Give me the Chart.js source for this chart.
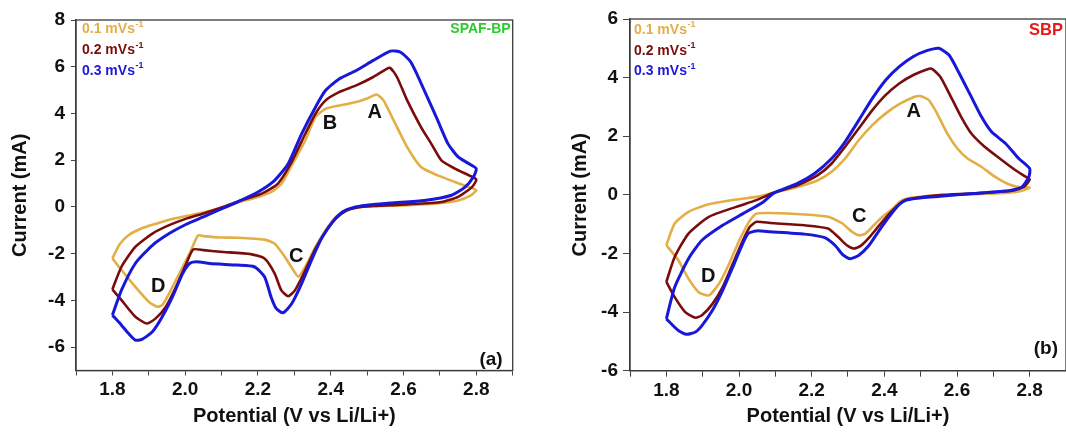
<!DOCTYPE html>
<html>
<head>
<meta charset="utf-8">
<title>CV curves</title>
<script src="https://cdn.jsdelivr.net/npm/chart.js@4.4.1/dist/chart.umd.min.js"></script>
<style>
  html, body { margin: 0; padding: 0; background: #fff; overflow: hidden; }
  .panel { position: absolute; top: 0; height: 432px; }
  #panelA { left: 0; width: 533px; }
  #panelB { left: 533px; width: 540px; }
</style>
</head>
<body>
<div class="panel" id="panelA"><canvas id="chartA" width="533" height="432"></canvas></div>
<div class="panel" id="panelB"><canvas id="chartB" width="540" height="432"></canvas></div>
<script>
/* CV plots: SPAF-BP (a) and SBP (b) */

const scanRates = ['0.1', '0.2', '0.3'];
const rateColors = ['#E3AE45', '#7A0C0C', '#1818DA'];

const xTickValues = [1.7, 1.8, 1.9, 2.0, 2.1, 2.2, 2.3, 2.4, 2.5, 2.6, 2.7, 2.8, 2.9];
const xLabelValues = [1.8, 2.0, 2.2, 2.4, 2.6, 2.8];
const yTicksA = [-6, -4, -2, 0, 2, 4, 6, 8];
const yTicksB = [-6, -4, -2, 0, 2, 4, 6];

// SPAF-BP, 0.1 mV/s (anodic sweep 1.8 -> 2.8, then cathodic back)
const potA1 = [1.800, 1.820, 1.845, 1.880, 1.920, 1.956, 2.000, 2.050, 2.096, 2.143, 2.200, 2.237, 2.265, 2.290, 2.330, 2.358, 2.386, 2.423, 2.470, 2.498, 2.526, 2.545, 2.573, 2.610, 2.648, 2.694, 2.741, 2.780, 2.800,
  2.780, 2.750, 2.704, 2.610, 2.517, 2.470, 2.442, 2.414, 2.386, 2.358, 2.330, 2.311, 2.297, 2.274, 2.246, 2.218, 2.143, 2.096, 2.050, 2.035, 2.012, 1.984, 1.956, 1.937, 1.923, 1.900, 1.863, 1.825, 1.800];
const curA1 = [-2.20, -1.60, -1.20, -0.92, -0.72, -0.55, -0.40, -0.24, -0.05, 0.18, 0.43, 0.64, 1.00, 1.70, 2.85, 3.85, 4.20, 4.34, 4.49, 4.63, 4.81, 4.56, 3.70, 2.56, 1.71, 1.35, 1.07, 0.85, 0.71,
  0.45, 0.28, 0.17, 0.07, 0.03, -0.03, -0.14, -0.43, -1.00, -1.71, -2.56, -2.99, -2.70, -2.14, -1.57, -1.40, -1.32, -1.31, -1.25, -1.22, -2.00, -2.85, -3.70, -4.20, -4.27, -4.06, -3.42, -2.70, -2.20];

// SPAF-BP, 0.2 mV/s
const potA2 = [1.800, 1.825, 1.863, 1.910, 1.956, 2.003, 2.050, 2.096, 2.143, 2.210, 2.255, 2.290, 2.330, 2.358, 2.386, 2.423, 2.470, 2.517, 2.554, 2.564, 2.582, 2.610, 2.648, 2.676, 2.704, 2.741, 2.780, 2.800,
  2.788, 2.750, 2.704, 2.610, 2.517, 2.470, 2.442, 2.414, 2.386, 2.358, 2.330, 2.302, 2.283, 2.264, 2.246, 2.218, 2.180, 2.096, 2.050, 2.022, 2.003, 1.975, 1.947, 1.919, 1.895, 1.863, 1.825, 1.800];
const curA2 = [-3.53, -2.56, -1.71, -1.14, -0.78, -0.50, -0.28, -0.05, 0.22, 0.57, 1.00, 1.85, 3.13, 3.99, 4.56, 4.91, 5.20, 5.56, 5.91, 5.94, 5.56, 4.56, 3.42, 2.71, 1.99, 1.64, 1.35, 1.17,
  0.85, 0.43, 0.21, 0.11, 0.04, -0.03, -0.17, -0.50, -1.07, -1.78, -2.71, -3.56, -3.82, -3.56, -2.85, -2.21, -2.02, -1.92, -1.85, -1.82, -2.42, -3.42, -4.27, -4.77, -4.99, -4.70, -3.99, -3.53];

// SPAF-BP, 0.3 mV/s
const potA3 = [1.800, 1.825, 1.863, 1.910, 1.956, 2.003, 2.050, 2.096, 2.143, 2.200, 2.246, 2.283, 2.320, 2.358, 2.386, 2.423, 2.470, 2.517, 2.564, 2.592, 2.620, 2.657, 2.694, 2.722, 2.750, 2.780, 2.800,
  2.792, 2.769, 2.732, 2.657, 2.564, 2.498, 2.461, 2.433, 2.405, 2.377, 2.349, 2.320, 2.293, 2.269, 2.250, 2.236, 2.218, 2.190, 2.143, 2.068, 2.031, 2.012, 1.993, 1.965, 1.937, 1.910, 1.881, 1.863, 1.844, 1.825, 1.800];
const curA3 = [-4.63, -3.56, -2.42, -1.64, -1.14, -0.74, -0.43, -0.11, 0.21, 0.64, 1.14, 1.85, 3.13, 4.27, 4.99, 5.48, 5.84, 6.27, 6.67, 6.62, 6.20, 4.99, 3.70, 2.71, 2.14, 1.85, 1.64,
  1.28, 0.85, 0.50, 0.28, 0.17, 0.07, -0.03, -0.21, -0.64, -1.28, -2.21, -3.28, -4.13, -4.53, -4.34, -3.85, -2.99, -2.56, -2.49, -2.42, -2.35, -2.42, -2.85, -3.85, -4.70, -5.34, -5.67, -5.70, -5.41, -5.06, -4.63];

// SBP, 0.1 mV/s
const potB1 = [1.800, 1.823, 1.861, 1.917, 1.992, 2.048, 2.095, 2.161, 2.217, 2.255, 2.292, 2.330, 2.367, 2.404, 2.442, 2.480, 2.498, 2.522, 2.545, 2.573, 2.601, 2.629, 2.667, 2.704, 2.742, 2.770, 2.800,
  2.779, 2.742, 2.648, 2.554, 2.508, 2.461, 2.442, 2.423, 2.395, 2.367, 2.348, 2.330, 2.311, 2.283, 2.245, 2.180, 2.086, 2.048, 2.030, 2.001, 1.973, 1.945, 1.917, 1.889, 1.861, 1.833, 1.800];
const curB1 = [-1.72, -0.98, -0.58, -0.32, -0.16, -0.07, 0.07, 0.27, 0.50, 0.79, 1.24, 1.87, 2.38, 2.78, 3.10, 3.33, 3.37, 3.24, 2.78, 2.10, 1.58, 1.24, 0.96, 0.62, 0.36, 0.27, 0.25,
  0.14, 0.07, 0.02, -0.01, -0.05, -0.13, -0.24, -0.47, -0.75, -1.09, -1.32, -1.38, -1.26, -0.96, -0.75, -0.67, -0.62, -0.64, -0.87, -1.55, -2.35, -3.03, -3.43, -3.32, -2.86, -2.23, -1.72];

// SBP, 0.2 mV/s
const potB2 = [1.800, 1.823, 1.861, 1.917, 1.992, 2.048, 2.095, 2.161, 2.217, 2.255, 2.292, 2.330, 2.367, 2.404, 2.442, 2.480, 2.517, 2.531, 2.554, 2.583, 2.611, 2.639, 2.676, 2.723, 2.761, 2.789, 2.800,
  2.784, 2.751, 2.648, 2.554, 2.508, 2.461, 2.442, 2.414, 2.386, 2.358, 2.334, 2.315, 2.297, 2.273, 2.245, 2.180, 2.086, 2.048, 2.030, 2.011, 1.983, 1.955, 1.927, 1.898, 1.880, 1.852, 1.823, 1.800];
const curB2 = [-2.97, -2.12, -1.32, -0.75, -0.41, -0.18, 0.07, 0.33, 0.67, 1.07, 1.64, 2.27, 2.89, 3.41, 3.81, 4.09, 4.28, 4.30, 4.03, 3.35, 2.67, 2.10, 1.64, 1.19, 0.84, 0.62, 0.52,
  0.27, 0.14, 0.05, -0.01, -0.07, -0.16, -0.30, -0.64, -1.04, -1.46, -1.75, -1.83, -1.72, -1.44, -1.15, -1.04, -0.96, -0.92, -1.09, -1.55, -2.35, -3.15, -3.72, -4.11, -4.19, -4.00, -3.49, -2.97];

// SBP, 0.3 mV/s
const potB3 = [1.800, 1.823, 1.861, 1.898, 1.955, 2.011, 2.067, 2.095, 2.161, 2.208, 2.255, 2.292, 2.330, 2.367, 2.404, 2.442, 2.480, 2.517, 2.550, 2.578, 2.606, 2.639, 2.667, 2.695, 2.733, 2.770, 2.800,
  2.798, 2.779, 2.742, 2.648, 2.554, 2.508, 2.461, 2.442, 2.414, 2.386, 2.358, 2.330, 2.306, 2.287, 2.264, 2.236, 2.180, 2.086, 2.048, 2.025, 2.006, 1.983, 1.955, 1.927, 1.898, 1.880, 1.856, 1.833, 1.800];
const curB3 = [-4.23, -3.15, -2.18, -1.55, -1.04, -0.64, -0.24, 0.05, 0.39, 0.73, 1.24, 1.81, 2.55, 3.29, 3.92, 4.38, 4.72, 4.92, 5.00, 4.77, 4.15, 3.35, 2.67, 2.15, 1.76, 1.24, 0.90,
  0.62, 0.27, 0.14, 0.05, -0.05, -0.09, -0.18, -0.32, -0.73, -1.21, -1.72, -2.06, -2.18, -2.06, -1.72, -1.46, -1.34, -1.26, -1.23, -1.32, -1.78, -2.46, -3.26, -3.94, -4.46, -4.68, -4.76, -4.63, -4.23];

// peak labels [name, potential, current]
const peaksA = [['A', 2.521, 4.06], ['B', 2.398, 3.56], ['C', 2.305, -2.14], ['D', 1.926, -3.39]];
const peaksB = [['A', 2.481, 2.86], ['C', 2.331, -0.75], ['D', 1.915, -2.80]];

const FONT = '"Liberation Sans", Arial, Helvetica, sans-serif';
Chart.defaults.font.family = FONT;
Chart.defaults.color = '#111';

function pts(xs, ys) {
    return xs.map((x, i) => ({ x: x, y: ys[i] }));
}

function makeSets(curves) {
    return curves.map((c, i) => ({
        label: scanRates[i] + ' mVs-1',
        data: pts(c[0], c[1]),
        borderColor: rateColors[i],
        borderWidth: i === 2 ? 3 : 2.6,
        pointRadius: 0,
        showLine: true,
        tension: 0.2,
        fill: false,
        order: 3 - i // blue on top
    }));
}

// frame, in-plot legend, panel name, (a)/(b) tag and peak letters
const notesPlugin = {
    id: 'cvNotes',
    afterDatasetsDraw(chart, args, opts) {
        const { ctx, chartArea: a } = chart;
        const xs = chart.scales.x, ys = chart.scales.y;
        ctx.save();

        ctx.strokeStyle = '#3a3a3a';
        ctx.lineWidth = 1.3;
        ctx.strokeRect(a.left, a.top, a.right - a.left, a.bottom - a.top);

        ctx.textBaseline = 'middle';
        ctx.textAlign = 'left';
        scanRates.forEach((rate, i) => {
            const ty = a.top + opts.legendTop + i * 20.7;
            const tx = a.left + opts.legendLeft;
            const main = rate + ' mVs';
            ctx.fillStyle = rateColors[i];
            ctx.font = 'bold 14px ' + FONT;
            ctx.fillText(main, tx, ty);
            const w = ctx.measureText(main).width;
            ctx.font = 'bold 9px ' + FONT;
            ctx.fillText('-1', tx + w + 0.5, ty - 5);
        });

        ctx.textAlign = 'right';
        ctx.fillStyle = opts.nameColor;
        ctx.font = 'bold ' + opts.nameSize + 'px ' + FONT;
        ctx.fillText(opts.name, a.right - opts.nameRight, a.top + opts.nameTop);

        ctx.fillStyle = '#111';
        ctx.font = 'bold 19px ' + FONT;
        ctx.fillText(opts.tag, a.right - opts.tagRight, a.bottom - opts.tagBottom);

        ctx.textAlign = 'center';
        ctx.font = 'bold 20px ' + FONT;
        opts.peaks.forEach(p => {
            ctx.fillText(p[0], xs.getPixelForValue(p[1]), ys.getPixelForValue(p[2]));
        });
        ctx.restore();
    }
};

function makeChart(id, curves, yTicks, yMin, yMax, box, notes) {
    const el = document.getElementById(id);
    if (!el) return;

    new Chart(el, {
        type: 'scatter',
        data: { datasets: makeSets(curves) },
        options: {
            responsive: false,
            animation: false,
            devicePixelRatio: 1,
            layout: { padding: { top: box.top, right: box.right, left: 0, bottom: 0 } },
            plugins: {
                legend: { display: false },
                tooltip: { enabled: false },
                cvNotes: notes
            },
            scales: {
                x: {
                    type: 'linear',
                    min: 1.7,
                    max: 2.9,
                    afterBuildTicks: s => { s.ticks = xTickValues.map(v => ({ value: v })); },
                    afterFit: s => { s.height = box.xHeight; },
                    ticks: {
                        autoSkip: false,
                        maxRotation: 0,
                        padding: box.xPad,
                        color: '#111',
                        font: { size: box.tickSize, weight: 'bold' },
                        callback: v => xLabelValues.some(l => Math.abs(l - v) < 1e-6) ? v.toFixed(1) : ''
                    },
                    grid: { drawOnChartArea: false, drawTicks: true, tickLength: box.xTick, tickColor: '#444' },
                    border: { display: true, color: '#3a3a3a', width: 1.3 },
                    title: {
                        display: true,
                        text: 'Potential (V vs Li/Li+)',
                        color: '#111',
                        font: { size: 20, weight: 'bold' },
                        padding: { top: 0, bottom: 4 }
                    }
                },
                y: {
                    min: yMin,
                    max: yMax,
                    afterBuildTicks: s => { s.ticks = yTicks.map(v => ({ value: v })); },
                    afterFit: s => { s.width = box.yWidth; },
                    ticks: {
                        padding: box.yPad,
                        color: '#111',
                        font: { size: box.tickSize, weight: 'bold' },
                        callback: v => String(v)
                    },
                    grid: { drawOnChartArea: false, drawTicks: true, tickLength: box.yTick, tickColor: '#444' },
                    border: { display: true, color: '#3a3a3a', width: 1.3 },
                    title: {
                        display: true,
                        text: 'Current (mA)',
                        color: '#111',
                        font: { size: 20, weight: 'bold' },
                        padding: { top: box.yTitle, bottom: 0 }
                    }
                }
            }
        },
        plugins: [notesPlugin]
    });
}

document.addEventListener('DOMContentLoaded', () => {
    makeChart('chartA',
        [[potA1, curA1], [potA2, curA2], [potA3, curA3]],
        yTicksA, -7, 8,
        { top: 20, right: 20.3, xHeight: 61.5, yWidth: 76, tickSize: 19, xPad: 3, xTick: 5, yPad: 6, yTick: 5, yTitle: 8 },
        { legendTop: 9.5, legendLeft: 6, name: 'SPAF-BP', nameColor: '#2CCB2C', nameSize: 14, nameRight: 2, nameTop: 9,
          tag: '(a)', tagRight: 10, tagBottom: 10.5, peaks: peaksA });

    makeChart('chartB',
        [[potB1, curB1], [potB2, curB2], [potB3, curB3]],
        yTicksB, -6, 6,
        { top: 19, right: 7, xHeight: 61.3, yWidth: 97, tickSize: 19, xPad: 3, xTick: 6, yPad: 5, yTick: 7, yTitle: 35 },
        { legendTop: 11, legendLeft: 4, name: 'SBP', nameColor: '#E81818', nameSize: 16.5, nameRight: 3, nameTop: 11,
          tag: '(b)', tagRight: 8, tagBottom: 22, peaks: peaksB });
});
</script>
</body>
</html>
